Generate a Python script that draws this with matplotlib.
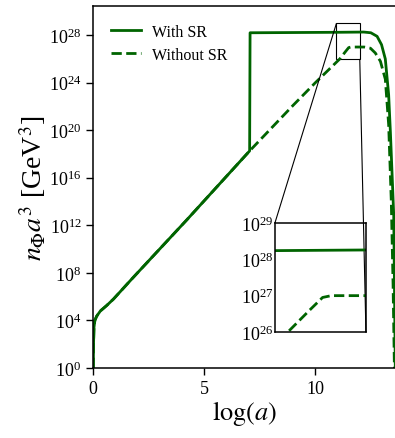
import numpy as np
import matplotlib
matplotlib.use("Agg")
import matplotlib.pyplot as plt
from mpl_toolkits.axes_grid1.inset_locator import mark_inset

plt.rcParams['font.family'] = ['Liberation Serif', 'DejaVu Serif']
plt.rcParams['mathtext.fontset'] = 'stix'

# log(a) and log10(n_Phi a^3)
x_sr = [0.0, 0.01, 0.03, 0.07, 0.15, 0.32, 0.6, 0.91, 1.74, 4.23, 7.04,
        7.06, 9.0, 11.0, 12.18, 12.5, 12.78, 12.98, 13.15, 13.3, 13.38, 13.53, 13.6]
y_sr = [0.0, 2.0, 3.4, 4.0, 4.35, 4.8, 5.25, 5.8, 7.5, 12.5, 18.26,
        28.2, 28.22, 28.24, 28.26, 28.2, 27.9, 27.2, 26.0, 23.0, 19.8, 12.8, 0.0]

x_nosr = [0.0, 0.01, 0.03, 0.07, 0.15, 0.32, 0.6, 0.91, 1.74, 4.23, 7.04,
          9.0, 10.0, 11.1, 11.35, 11.5, 11.6, 12.2, 12.48, 12.7, 12.93, 13.15, 13.3, 13.42, 13.5, 13.56]
y_nosr = [0.0, 2.0, 3.4, 4.0, 4.35, 4.8, 5.25, 5.8, 7.5, 12.5, 18.26,
          22.1, 24.0, 26.0, 26.6, 26.95, 27.0, 27.0, 26.9, 26.5, 25.8, 24.3, 20.5, 14.0, 7.0, 0.0]

y_sr = 10.0 ** np.array(y_sr)
y_nosr = 10.0 ** np.array(y_nosr)

col = 'darkgreen'

fig = plt.figure(figsize=(3.95, 4.39), dpi=100)
ax = fig.add_axes([0.2362, 0.1595, 0.7668, 0.8245])
ax.plot(x_sr, y_sr, '-', color=col, lw=2.0, label='With SR')
ax.plot(x_nosr, y_nosr, '--', color=col, lw=2.0, label='Without SR')
ax.set_yscale('log')
ax.set_xlim(0, 13.64)
ax.set_ylim(1, 10 ** 30.45)
ax.set_xticks([0, 5, 10])
ax.set_yticks([10.0 ** k for k in range(0, 29, 4)])
ax.minorticks_off()
ax.tick_params(labelsize=13, length=5, width=1)
for s in ax.spines.values():
    s.set_linewidth(1.1)
ax.set_xlabel(r'$\log(a)$', fontsize=19, labelpad=1)
ax.set_ylabel(r'$n_\Phi a^3$ [GeV$^3$]', fontsize=20, labelpad=1)
ax.legend(loc='upper left', frameon=False, fontsize=11.5, handlelength=1.9,
          handletextpad=0.7, labelspacing=0.45, borderaxespad=0.7)

# inset
axins = fig.add_axes([0.696, 0.2415, 0.2304, 0.2483])
axins.patch.set_alpha(0)
axins.plot(x_sr, y_sr, '-', color=col, lw=2.0)
axins.plot(x_nosr, y_nosr, '--', color=col, lw=2.0)
axins.set_yscale('log')
axins.set_xlim(10.95, 12.0)
axins.set_ylim(1e26, 1e29)
axins.set_xticks([])
axins.set_yticks([1e26, 1e27, 1e28, 1e29])
axins.minorticks_off()
axins.tick_params(labelsize=13, length=0, pad=1)
for s in axins.spines.values():
    s.set_linewidth(1.1)

mark_inset(ax, axins, loc1=2, loc2=4, fc='none', ec='k', lw=0.8)

fig.savefig('out.png', dpi=100)
